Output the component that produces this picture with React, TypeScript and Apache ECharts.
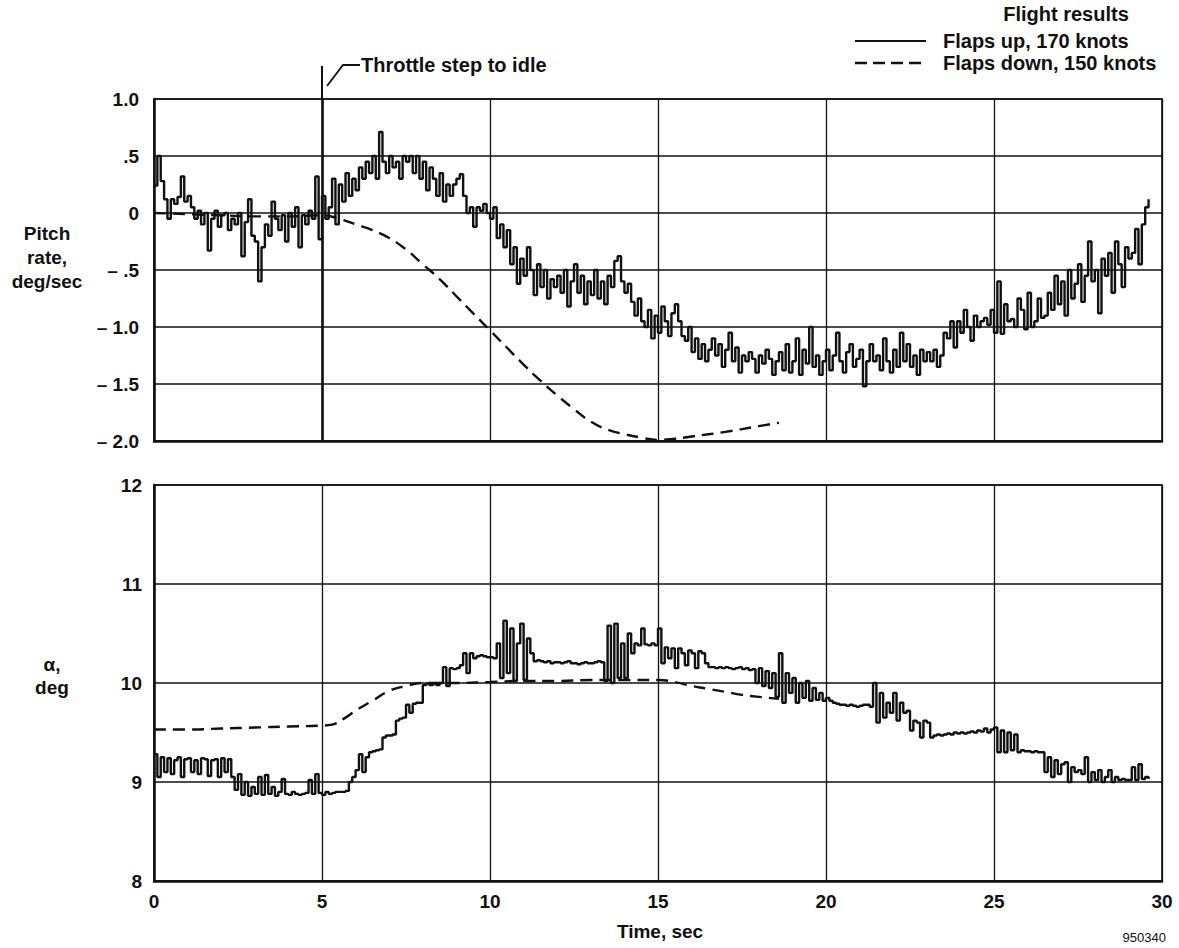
import React, { useEffect, useRef } from "react";
import * as echarts from "echarts";

const TIME_STEP = 0.1;

const X_TICKS = [0, 5, 10, 15, 20, 25, 30];
const PITCH_TICK_LABELS: Record<string, string> = {
  "1": "1.0", "0.5": ".5", "0": "0", "-0.5": "\u2013 .5", "-1": "\u2013 1.0", "-1.5": "\u2013 1.5", "-2": "\u2013 2.0",
};
const ALPHA_TICK_LABELS = ["8", "9", "10", "11", "12"];

// Pitch rate, flaps up 170 knots (deg/sec), sampled every 0.1 s from t = 0
const pitchFlapsUp = [
  0.24, 0.5, 0.28, 0.12, -0.05, 0.12, 0.08, 0.14, 0.32, 0.1,
  0.15, 0.05, -0.05, 0.02, -0.1, 0.0, -0.33, -0.05, 0.02, -0.12,
  -0.02, 0.0, -0.15, -0.05, -0.1, 0.0, -0.38, -0.08, 0.12, -0.2,
  -0.25, -0.6, -0.3, -0.1, -0.2, 0.1, -0.05, -0.15, -0.02, -0.25,
  0.0, -0.12, 0.05, -0.3, -0.02, -0.1, 0.02, -0.05, 0.32, -0.23,
  0.15, -0.05, 0.05, 0.3, -0.1, 0.25, 0.1, 0.35, 0.15, 0.3,
  0.2, 0.4, 0.3, 0.45, 0.35, 0.5, 0.3, 0.71, 0.45, 0.35,
  0.5, 0.4, 0.45, 0.3, 0.5, 0.45, 0.5, 0.35, 0.5, 0.3,
  0.45, 0.2, 0.4, 0.3, 0.15, 0.35, 0.1, 0.25, 0.15, 0.25,
  0.3, 0.34, 0.15, 0.0, 0.05, -0.12, 0.05, 0.02, 0.08, 0.0,
  -0.05, 0.05, -0.22, -0.1, -0.3, -0.15, -0.45, -0.3, -0.62, -0.4,
  -0.55, -0.3, -0.5, -0.72, -0.45, -0.65, -0.5, -0.75, -0.58, -0.65,
  -0.55, -0.7, -0.5, -0.82, -0.6, -0.45, -0.7, -0.55, -0.8, -0.6,
  -0.72, -0.5, -0.75, -0.6, -0.8, -0.55, -0.65, -0.42, -0.38, -0.6,
  -0.7, -0.62, -0.78, -0.9, -0.75, -0.95, -1.0, -0.85, -1.1, -0.9,
  -1.05, -0.82, -0.95, -1.08, -0.88, -0.8, -0.95, -1.08, -1.12, -1.0,
  -1.22, -1.1, -1.28, -1.15, -1.3, -1.2, -1.1, -1.25, -1.15, -1.35,
  -1.2, -1.05, -1.3, -1.18, -1.4, -1.25, -1.3, -1.22, -1.28, -1.4,
  -1.25, -1.32, -1.2, -1.28, -1.42, -1.3, -1.22, -1.38, -1.15, -1.4,
  -1.3, -1.1, -1.42, -1.2, -1.32, -1.0, -1.35, -1.25, -1.42, -1.3,
  -1.2, -1.38, -1.25, -1.05, -1.3, -1.4, -1.22, -1.15, -1.35, -1.28,
  -1.2, -1.52, -1.3, -1.15, -1.3, -1.25, -1.38, -1.1, -1.3, -1.4,
  -1.2, -1.35, -1.05, -1.3, -1.15, -1.35, -1.25, -1.42, -1.2, -1.3,
  -1.22, -1.3, -1.2, -1.35, -1.25, -1.05, -1.1, -0.95, -1.18, -0.95,
  -1.05, -0.85, -1.0, -1.12, -0.9, -1.0, -0.95, -0.92, -0.98, -0.85,
  -1.05, -0.6, -1.06, -0.8, -0.95, -0.93, -1.0, -0.75, -0.85, -1.02,
  -0.7, -1.0, -0.95, -0.75, -0.92, -0.9, -0.7, -0.85, -0.55, -0.8,
  -0.6, -0.9, -0.5, -0.75, -0.62, -0.45, -0.78, -0.55, -0.25, -0.6,
  -0.5, -0.88, -0.4, -0.55, -0.35, -0.7, -0.25, -0.45, -0.65, -0.3,
  -0.4, -0.35, -0.14, -0.45, -0.1, 0.05, 0.12,
];

// Pitch rate, flaps down 150 knots: [time s, deg/sec]
const pitchFlapsDownT = [0, 1, 2, 3, 4, 5, 5.5, 6, 6.5, 7, 7.5, 8, 8.5, 9, 9.5, 10, 10.5, 11, 11.5, 12, 12.5, 13, 13.5, 14, 14.5, 15, 15.5, 16, 17, 18, 18.6];
const pitchFlapsDownV = [0, -0.01, -0.02, -0.03, -0.03, -0.02, -0.05, -0.1, -0.15, -0.22, -0.32, -0.45, -0.58, -0.73, -0.88, -1.03, -1.18, -1.33, -1.47, -1.6, -1.72, -1.83, -1.9, -1.94, -1.97, -1.99, -1.98, -1.96, -1.92, -1.87, -1.84];

// Angle of attack, flaps up 170 knots (deg), sampled every 0.1 s from t = 0
const alphaFlapsUp = [
  9.28, 9.05, 9.25, 9.1, 9.24, 9.08, 9.22, 9.25, 9.05, 9.23,
  9.24, 9.1, 9.22, 9.08, 9.24, 9.23, 9.06, 9.22, 9.23, 9.05,
  9.24, 9.1, 9.23, 9.05, 8.92, 9.08, 8.87, 9.0, 8.86, 8.95,
  8.88, 9.05, 8.87, 9.07, 8.88, 8.95, 8.86, 8.9, 9.03, 8.88,
  8.87, 8.9, 8.88, 8.87, 8.88, 8.89, 9.02, 8.88, 9.08, 8.89,
  8.87, 8.9, 8.88, 8.89, 8.9, 8.9, 8.9, 8.91, 9.0, 9.05,
  9.12, 9.28, 9.1, 9.25, 9.3, 9.31, 9.32, 9.33, 9.45, 9.47,
  9.47, 9.48, 9.62, 9.64, 9.65, 9.78, 9.7, 9.79, 9.8, 9.8,
  9.98, 9.99, 9.98, 9.99, 9.98, 10.0, 10.16, 9.97, 10.15, 10.14,
  10.15, 10.18, 10.3, 10.1, 10.3, 10.25, 10.27, 10.28, 10.27, 10.26,
  10.26, 10.25, 10.4, 10.05, 10.63, 10.1, 10.55, 10.02, 10.4, 10.6,
  10.03, 10.45, 10.3, 10.22, 10.23, 10.22, 10.21, 10.22, 10.2, 10.21,
  10.21, 10.2, 10.21, 10.22, 10.2, 10.2, 10.19, 10.2, 10.21, 10.2,
  10.2, 10.21, 10.22, 10.21, 10.02, 10.58, 10.0, 10.6, 10.05, 10.4,
  10.05, 10.5, 10.3, 10.4, 10.38, 10.55, 10.39, 10.38, 10.4, 10.38,
  10.55, 10.2, 10.36, 10.25, 10.35, 10.15, 10.35, 10.3, 10.18, 10.33,
  10.3, 10.15, 10.32, 10.3, 10.2, 10.16, 10.16, 10.15, 10.16, 10.15,
  10.16, 10.15, 10.14, 10.15, 10.16, 10.14, 10.15, 10.13, 10.14, 10.0,
  10.15, 9.97, 10.12, 9.95, 10.1, 9.86, 10.3, 9.8, 10.1, 9.9,
  10.05, 9.8, 10.0, 9.85, 10.02, 9.82, 9.95, 9.83, 9.9, 9.82,
  9.85, 9.82, 9.8, 9.79, 9.78, 9.78, 9.77, 9.78, 9.77, 9.76,
  9.77, 9.78, 9.78, 9.76, 10.0, 9.6, 9.9, 9.65, 9.8, 9.7,
  9.9, 9.62, 9.8, 9.7, 9.72, 9.52, 9.62, 9.6, 9.45, 9.62,
  9.6, 9.45, 9.47, 9.48, 9.47, 9.48, 9.49, 9.48, 9.5, 9.49,
  9.5, 9.49, 9.5, 9.51, 9.5, 9.52, 9.51, 9.54, 9.5, 9.53,
  9.55, 9.3, 9.52, 9.3, 9.5, 9.32, 9.48, 9.3, 9.32, 9.31,
  9.31, 9.3, 9.31, 9.3, 9.3, 9.1, 9.25, 9.05, 9.22, 9.08,
  9.18, 9.2, 9.0, 9.15, 9.1, 9.12, 9.08, 9.25, 9.0, 9.1,
  9.02, 9.12, 9.0, 9.05, 9.12, 9.0, 9.05, 9.02, 9.03, 9.02,
  9.02, 9.15, 9.02, 9.18, 9.03, 9.05, 9.03,
];

// Angle of attack, flaps down 150 knots: [time s, deg]
const alphaFlapsDownT = [0, 1, 2, 3, 4, 5, 5.3, 5.7, 6, 6.5, 7, 7.5, 8, 9, 10, 11, 12, 13, 14, 15, 15.5, 16, 16.5, 17, 17.5, 18, 18.6];
const alphaFlapsDownV = [9.53, 9.53, 9.54, 9.55, 9.56, 9.57, 9.58, 9.65, 9.72, 9.82, 9.92, 9.97, 10.0, 10.0, 10.01, 10.02, 10.02, 10.03, 10.03, 10.03, 10.01, 9.97, 9.94, 9.91, 9.88, 9.86, 9.84];

const FONT = "'Liberation Sans', Arial, Helvetica, sans-serif";
const INK = "#111";

export default function App() {
  const ref = useRef<HTMLDivElement>(null);

  useEffect(() => {
    if (!ref.current) return;
    const chart = echarts.init(ref.current, null, { renderer: "svg" });

    const sampled = (vals: number[]) => vals.map((v, i) => [Math.round(i * TIME_STEP * 10) / 10, v]);
    const paired = (t: number[], v: number[]) => t.map((x, i) => [x, v[i]]);

    const gridLeft = 154;
    const gridRight = 17;
    const xAxisBase = (gridIndex: number, showLabels: boolean) => ({
      type: "value",
      gridIndex,
      min: X_TICKS[0],
      max: X_TICKS[X_TICKS.length - 1],
      interval: 5,
      axisLine: { show: true, onZero: false, lineStyle: { color: INK, width: 2.5 } },
      axisTick: { show: false },
      splitLine: { show: true, lineStyle: { color: INK, width: 1.3 } },
      axisLabel: {
        show: showLabels,
        color: INK,
        fontFamily: FONT,
        fontWeight: "bold",
        fontSize: 19,
        margin: 11,
      },
    });

    const yLabel = (margin: number, formatter: (v: number) => string) => ({
      color: INK,
      fontFamily: FONT,
      fontWeight: "bold",
      fontSize: 19,
      margin,
      formatter,
    });

    chart.setOption({
      animation: false,
      backgroundColor: "#fff",
      grid: [
        { left: gridLeft, right: gridRight, top: 99, height: 342, show: true, borderColor: INK, borderWidth: 1.6 },
        { left: gridLeft, right: gridRight, top: 485, height: 396, show: true, borderColor: INK, borderWidth: 1.6 },
      ],
      xAxis: [xAxisBase(0, false), xAxisBase(1, true)],
      yAxis: [
        {
          type: "value",
          gridIndex: 0,
          min: -2,
          max: 1,
          interval: 0.5,
          axisLine: { show: true, onZero: false, lineStyle: { color: INK, width: 2.5 } },
          axisTick: { show: false },
          splitLine: { show: true, lineStyle: { color: INK, width: 1.6 } },
          axisLabel: yLabel(15, (v: number) => PITCH_TICK_LABELS[String(v)] ?? String(v)),
        },
        {
          type: "value",
          gridIndex: 1,
          min: 8,
          max: 12,
          interval: 1,
          axisLine: { show: true, onZero: false, lineStyle: { color: INK, width: 2.5 } },
          axisTick: { show: false },
          splitLine: { show: true, lineStyle: { color: INK, width: 1.6 } },
          axisLabel: yLabel(12, (v: number) => ALPHA_TICK_LABELS[v - 8] ?? String(v)),
        },
      ],
      series: [
        {
          name: "Flaps up, 170 knots",
          type: "line",
          xAxisIndex: 0,
          yAxisIndex: 0,
          step: "end",
          symbol: "none",
          data: sampled(pitchFlapsUp),
          lineStyle: { color: INK, width: 2.4 },
          markLine: {
            silent: true,
            symbol: "none",
            label: { show: false },
            lineStyle: { color: INK, width: 2.6, type: "solid" },
            data: [{ xAxis: 5 }],
          },
        },
        {
          name: "Flaps down, 150 knots",
          type: "line",
          xAxisIndex: 0,
          yAxisIndex: 0,
          smooth: true,
          symbol: "none",
          data: paired(pitchFlapsDownT, pitchFlapsDownV),
          lineStyle: { color: INK, width: 2.4, type: [12, 7] },
        },
        {
          name: "alpha up",
          type: "line",
          xAxisIndex: 1,
          yAxisIndex: 1,
          step: "end",
          symbol: "none",
          data: sampled(alphaFlapsUp),
          lineStyle: { color: INK, width: 2.4 },
        },
        {
          name: "alpha down",
          type: "line",
          xAxisIndex: 1,
          yAxisIndex: 1,
          smooth: true,
          symbol: "none",
          data: paired(alphaFlapsDownT, alphaFlapsDownV),
          lineStyle: { color: INK, width: 2.4, type: [12, 7] },
        },
      ],
    });

    const p5 = chart.convertToPixel({ gridIndex: 0 }, [5, 1]) as number[];
    const x5 = p5[0];
    const yTop = p5[1];
    const boldText = { fill: INK, fontFamily: FONT, fontWeight: "bold", fontSize: 20 };

    chart.setOption({
      graphic: [
        { type: "line", shape: { x1: x5, y1: yTop - 33, x2: x5, y2: yTop }, style: { stroke: INK, lineWidth: 2 } },
        { type: "polyline", shape: { points: [[x5 + 5, yTop - 13], [x5 + 21, yTop - 34], [x5 + 38, yTop - 34]] }, style: { stroke: INK, lineWidth: 1.8, fill: null } },
        { type: "text", x: x5 + 39, y: yTop - 34, style: { ...boldText, text: "Throttle step to idle", verticalAlign: "middle" } },

        { type: "text", x: 1066, y: 14, style: { ...boldText, text: "Flight results", align: "center", verticalAlign: "middle" } },
        { type: "line", shape: { x1: 855, y1: 41, x2: 926, y2: 41 }, style: { stroke: INK, lineWidth: 2 } },
        { type: "text", x: 943, y: 41, style: { ...boldText, text: "Flaps up, 170 knots", verticalAlign: "middle" } },
        { type: "line", shape: { x1: 855, y1: 63, x2: 926, y2: 63 }, style: { stroke: INK, lineWidth: 2.6, lineDash: [12, 6] } },
        { type: "text", x: 943, y: 63, style: { ...boldText, text: "Flaps down, 150 knots", verticalAlign: "middle" } },

        { type: "text", x: 47, y: 257, style: { ...boldText, fontSize: 19, text: "Pitch\nrate,\ndeg/sec", align: "center", verticalAlign: "middle", lineHeight: 24 } },
        { type: "text", x: 52, y: 676, style: { ...boldText, fontSize: 19, text: "\u03b1,\ndeg", align: "center", verticalAlign: "middle", lineHeight: 23 } },

        { type: "text", x: 660, y: 931, style: { ...boldText, fontSize: 19, text: "Time, sec", align: "center", verticalAlign: "middle" } },
        { type: "text", x: 1166, y: 937, style: { fill: INK, fontFamily: FONT, fontSize: 13, text: "950340", align: "right", verticalAlign: "middle" } },
      ],
    });

    return () => chart.dispose();
  }, []);

  return <div ref={ref} style={{ width: 1179, height: 948, position: "absolute", left: 0, top: 0, background: "#fff" }} />;
}
